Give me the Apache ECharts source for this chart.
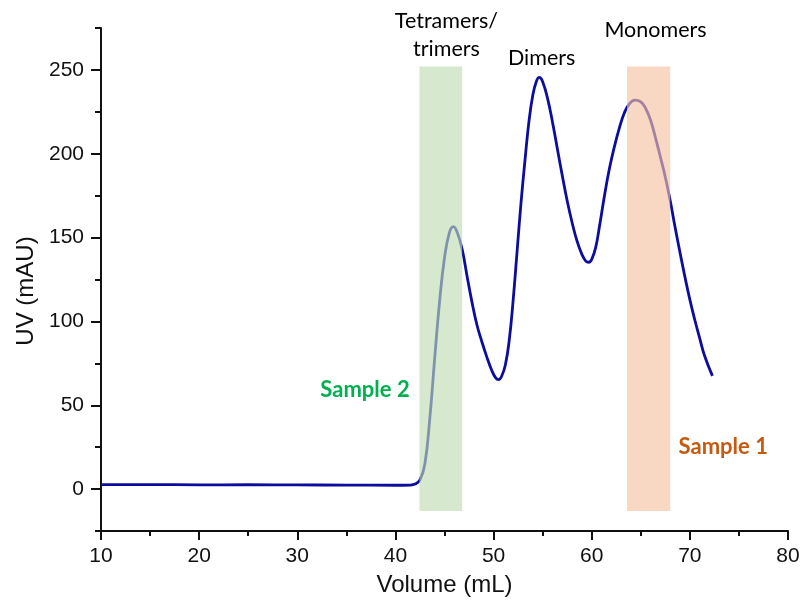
<!DOCTYPE html>
<html>
<head>
<meta charset="utf-8">
<script src="https://cdn.jsdelivr.net/npm/echarts@6/dist/echarts.min.js"></script>
<style>
  html, body { margin: 0; padding: 0; background: #fff; }
  #chart { width: 803px; height: 603px; }
</style>
</head>
<body>
<div id="chart"></div>
<script>
  // elution volume (mL) and UV absorbance (mAU)
  const volume = [10, 15, 20, 25, 30, 35, 40, 41.5, 42.0, 42.5, 43.0, 43.5, 44.0, 44.5, 45.0, 45.5, 45.9,
    46.3, 46.8, 47.3, 47.8, 48.3, 48.8, 49.3, 49.8, 50.2, 50.5, 50.8, 51.2, 51.6, 52.0, 52.4, 52.8, 53.2, 53.6,
    54.0, 54.35, 54.65, 55.0, 55.5, 56.0, 56.5, 57.0, 57.5, 58.0, 58.5, 59.0, 59.4, 59.7, 60.0, 60.4, 60.8,
    61.3, 61.8, 62.3, 62.8, 63.3, 63.8, 64.4, 65.0, 65.5, 66.0, 66.5, 67.0, 67.5, 68.0, 68.5, 69.0, 69.5,
    70.0, 70.5, 71.0, 71.5, 72.3];
  const uv = [2.6, 2.7, 2.5, 2.6, 2.5, 2.4, 2.3, 2.4, 3.0, 5.5, 15, 42, 78, 112, 138, 153, 156.5,
    153, 143, 127, 111.5, 98, 88, 79, 71, 66.5, 65.3, 67, 74, 89, 113, 142, 171, 196, 219,
    235, 243, 245.5, 243, 233, 219, 203, 187, 172, 159, 148, 140, 136, 135.3, 137, 144, 157,
    175, 191, 204, 215, 224, 229.5, 232, 231, 227, 220, 209.5, 198, 186, 172, 156, 141, 126.5,
    113, 101, 90, 79.5, 67.5];

  // collected fractions: [start, end] volume
  const sample2Band = [42.45, 46.8];
  const sample1Band = [63.6, 68.0];
  const bandUV = [-13, 252];

  const xTicks = [10, 20, 30, 40, 50, 60, 70, 80];
  const yTicks = [0, 50, 100, 150, 200, 250];
  const yMinorTicks = [-25, 25, 75, 125, 175, 225, 275];

  const annText = ['Tetramers/\ntrimers', 'Dimers', 'Monomers', 'Sample 2', 'Sample 1'];
  const annX = [45.2, 54.9, 66.5, 36.9, 73.4];
  const annY = [271, 257, 273.6, 59, 25.2];

  const annStyle = [
    { color: '#000', fontWeight: 'normal' },
    { color: '#000', fontWeight: 'normal' },
    { color: '#000', fontWeight: 'normal' },
    { color: '#00b050', fontWeight: 'bold' },
    { color: '#c55a11', fontWeight: 'bold' }
  ];

  let myChart = echarts.init(document.getElementById('chart'), null, { renderer: 'canvas' });

  myChart.setOption({
    animation: false,
    backgroundColor: '#fff',
    grid: { left: 101, right: 15, top: 28, bottom: 72, containLabel: false },
    xAxis: {
      type: 'value',
      min: xTicks[0],
      max: xTicks[xTicks.length - 1],
      interval: 10,
      name: 'Volume (mL)',
      nameLocation: 'middle',
      nameGap: 42,
      nameTextStyle: { fontFamily: 'Liberation Sans', fontSize: 24, color: '#111' },
      axisLine: { onZero: false, lineStyle: { color: '#111', width: 2 } },
      axisTick: { inside: false, length: 9, lineStyle: { color: '#111', width: 2 } },
      minorTick: { show: true, splitNumber: 2, length: 5, lineStyle: { color: '#111', width: 2 } },
      axisLabel: { margin: 15, fontFamily: 'Liberation Sans', fontSize: 21, color: '#111' },
      splitLine: { show: false }
    },
    yAxis: [
      {
        type: 'value',
        min: -25,
        max: 275,
        name: 'UV (mAU)',
        nameLocation: 'middle',
        nameGap: 62,
        nameRotate: 90,
        nameTextStyle: { fontFamily: 'Liberation Sans', fontSize: 24, color: '#111', padding: [0, 23, 0, 0] },
        axisLine: { onZero: false, lineStyle: { color: '#111', width: 2 } },
        axisTick: { customValues: yTicks, length: 10, lineStyle: { color: '#111', width: 2 } },
        axisLabel: { customValues: yTicks, margin: 17, fontFamily: 'Liberation Sans', fontSize: 21, color: '#111' },
        splitLine: { show: false }
      },
      {
        // minor ticks only
        type: 'value',
        position: 'left',
        min: -25,
        max: 275,
        axisLine: { show: false },
        axisTick: { show: true, customValues: yMinorTicks, length: 6, lineStyle: { color: '#111', width: 2 } },
        axisLabel: { show: false },
        splitLine: { show: false }
      }
    ],
    series: [
      {
        name: 'UV',
        type: 'line',
        z: 2,
        showSymbol: false,
        smooth: 0.45,
        lineStyle: { color: '#0c0c9e', width: 2.8 },
        data: volume.map((v, i) => [v, uv[i]]),
        markArea: {
          z: 3,
          silent: true,
          data: [
            [{ xAxis: sample2Band[0], yAxis: bandUV[0], itemStyle: { color: 'rgba(192,220,180,0.65)' } },
             { xAxis: sample2Band[1], yAxis: bandUV[1] }],
            [{ xAxis: sample1Band[0], yAxis: bandUV[0], itemStyle: { color: 'rgba(245,194,163,0.65)' } },
             { xAxis: sample1Band[1], yAxis: bandUV[1] }]
          ]
        }
      },
      {
        name: 'labels',
        type: 'scatter',
        z: 4,
        symbolSize: 1,
        itemStyle: { color: 'rgba(0,0,0,0)', opacity: 1 },
        emphasis: { disabled: true },
        silent: true,
        data: annText.map((t, i) => ({
          value: [annX[i], annY[i]],
          label: {
            show: true,
            position: 'inside',
            formatter: t,
            fontFamily: 'Lato',
            fontSize: i < 3 ? 21.5 : 22,
            lineHeight: 28,
            align: 'center',
            opacity: 1,
            color: annStyle[i].color,
            fontWeight: annStyle[i].fontWeight
          }
        }))
      }
    ]
  });
</script>
</body>
</html>
